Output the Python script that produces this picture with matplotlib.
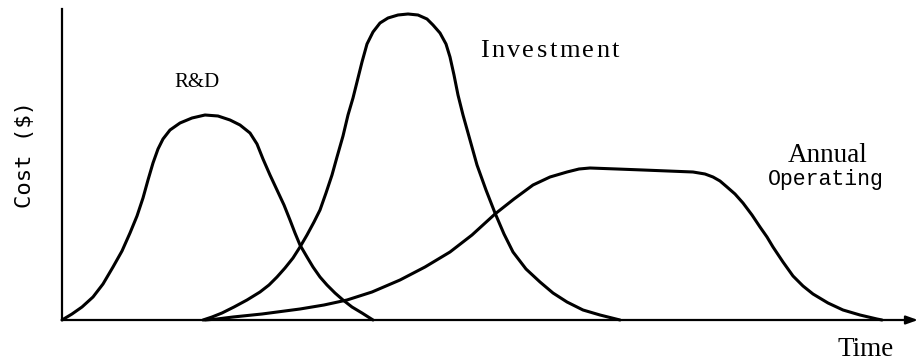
import matplotlib
matplotlib.use("Agg")
import matplotlib.pyplot as plt

# Schematic cost curves (time and cost in arbitrary units)
rd_time = [0, 10, 20, 31, 41, 51, 60, 68, 75, 81, 86, 91, 96, 101, 108, 118, 130, 143, 156, 168, 178,
           188, 195, 201, 208, 215, 222, 228, 233, 238, 245, 251, 258, 265, 273, 281, 290, 300, 311]
rd_cost = [0, 6, 13, 23, 36, 53, 69, 87, 104, 122, 140, 157, 171, 181, 190, 197, 202, 205, 204, 200, 195,
           187, 176, 161, 145, 130, 115, 100, 87, 75, 63, 53, 43, 35, 27, 20, 13, 7, 0]

inv_time = [141, 150, 160, 172, 185, 198, 207, 215, 223, 231, 238, 245, 252, 258, 264, 270, 275, 281, 286,
            291, 295, 300, 305, 311, 318, 326, 336, 346, 356, 365, 371, 378, 384, 388, 392, 396, 401, 408,
            415, 424, 433, 442, 451, 464, 478, 491, 505, 521, 538, 558]
inv_cost = [0, 3, 7, 13, 20, 28, 35, 43, 52, 62, 73, 85, 98, 110, 127, 145, 163, 184, 205,
            222, 238, 258, 276, 288, 297, 302, 305, 306, 305, 301, 295, 287, 276, 263, 245, 225, 205, 180,
            155, 130, 107, 86, 68, 51, 38, 27, 18, 10, 5, 0]

op_time = [143, 155, 171, 200, 238, 262, 285, 310, 338, 363, 388, 410, 433, 452, 471, 488, 505, 517, 528,
           555, 581, 606, 631, 643, 651, 658, 665, 673, 681, 690, 698, 705, 711, 721, 731, 741, 751, 766,
           781, 798, 815, 820]
op_cost = [0, 1, 3, 6, 11, 15, 20, 28, 40, 53, 68, 85, 106, 121, 135, 143, 148, 151, 152,
           151, 150, 149, 148, 146, 143, 139, 133, 126, 117, 105, 93, 83, 73, 58, 44, 34, 26, 17,
           10, 5, 1, 0]

W, H = 920, 363
fig = plt.figure(figsize=(W / 100, H / 100), dpi=100)
ax = fig.add_axes([62 / W, 43 / H, 856 / W, 311 / H])
ax.set_xlim(0, 856)
ax.set_ylim(0, 311)
ax.axis("off")

lw = 2.2
for t, c in [(rd_time, rd_cost), (inv_time, inv_cost), (op_time, op_cost)]:
    ax.plot(t, c, color="black", lw=lw, solid_joinstyle="round", solid_capstyle="round", clip_on=False)

# axes lines
ax.plot([0, 0], [0, 311], color="black", lw=1.6, clip_on=False)
ax.annotate("", xy=(856, 0), xytext=(0, 0),
            arrowprops=dict(arrowstyle="-|>,head_length=0.7,head_width=0.25", color="black", lw=1.6,
                            shrinkA=0, shrinkB=0), annotation_clip=False)


def px(x, y):
    return x / W, 1 - y / H


serif = "Liberation Serif"
fig.text(*px(197, 87), "R&D", family=serif, fontsize=15, ha="center", va="baseline")
fig.text(*px(788, 162), "Annual", family=serif, fontsize=19.5, ha="left", va="baseline")
fig.text(*px(768, 185), "Operating", family="Liberation Mono", fontsize=15.5, ha="left", va="baseline")
fig.text(*px(838, 356), "Time", family=serif, fontsize=19.5, ha="left", va="baseline")
fig.text(*px(25, 154), "Cost ($)", family="DejaVu Sans Mono", fontsize=16, rotation=90,
         ha="center", va="center")

# letter-spaced "Investment"
renderer = fig.canvas.get_renderer()
word = "Investment"
left, base, spacing = 480, 57, 2.4
for i, ch in enumerate(word):
    off = 0.0
    if i > 0:
        tmp = fig.text(0, 0, word[:i], family=serif, fontsize=19)
        off = tmp.get_window_extent(renderer).width
        tmp.remove()
    fig.text(*px(left + off + i * spacing, base), ch, family=serif, fontsize=19, ha="left", va="baseline")

fig.savefig("out.png", dpi=100)
